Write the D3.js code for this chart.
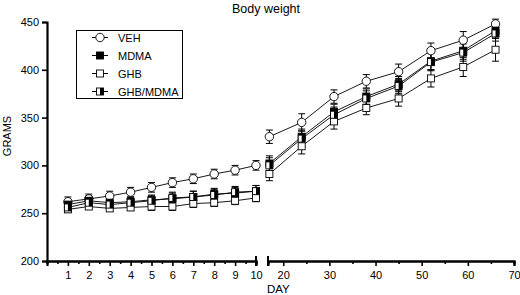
<!DOCTYPE html>
<html>
<head>
<meta charset="utf-8">
<script src="https://cdn.jsdelivr.net/npm/d3@7"></script>
<style>
  body { margin: 0; background: #fff; }
  svg text { font-family: "Liberation Sans", Arial, sans-serif; fill: #000; }
</style>
</head>
<body>
<svg id="chart" width="520" height="295"></svg>
<script>
// days on each side of the axis break
const daysEarly = [1, 2, 3, 4, 5, 6, 7, 8, 9, 10];
const daysLate = [17, 24, 31, 38, 45, 52, 59, 66];

// grams, early days then late days
const vehMean = [262, 265, 268, 272, 277, 282, 286, 291, 295, 300, 330, 345, 372, 388, 398, 420, 431, 448];
const vehSem = [5, 5, 5, 5, 5, 5, 5, 5, 5, 5, 7, 9, 7, 7, 8, 8, 9, 5];
const mdmaMean = [259, 263, 261, 262, 264, 265, 267, 270, 271, 273, 302, 330, 356, 372, 385, 409, 420, 441];
const mdmaSem = [5, 5, 5, 5, 5, 6, 6, 6, 6, 6, 8, 8, 8, 8, 8, 9, 9, 8];
const ghbMdmaMean = [256, 261, 259, 261, 263, 266, 267, 269, 272, 273, 300, 328, 353, 370, 383, 408, 418, 438];
const ghbMdmaSem = [4, 4, 4, 5, 5, 6, 6, 6, 6, 6, 8, 8, 8, 8, 8, 9, 9, 8];
const ghbMean = [254, 257, 255, 256, 257, 257, 260, 261, 263, 266, 291, 320, 346, 360, 370, 391, 403, 421];
const ghbSem = [3, 3, 3, 3, 4, 4, 4, 4, 4, 4, 7, 8, 8, 7, 8, 9, 10, 12];

const yTicks = [200, 250, 300, 350, 400, 450];
const xTicksEarly = [1, 2, 3, 4, 5, 6, 7, 8, 9, 10];
const xTicksLate = [20, 30, 40, 50, 60, 70];

const series = [
    { name: "VEH", mean: vehMean, sem: vehSem, mark: "circle" },
    { name: "MDMA", mean: mdmaMean, sem: mdmaSem, mark: "filled" },
    { name: "GHB", mean: ghbMean, sem: ghbSem, mark: "open" },
    { name: "GHB/MDMA", mean: ghbMdmaMean, sem: ghbMdmaSem, mark: "half" }
];

const svg = d3.select("#chart");

const y = d3.scaleLinear().domain([200, 450]).range([261, 22]);
const xEarly = d3.scaleLinear().domain([0, 10]).range([47, 256]);
const xLate = d3.scaleLinear().domain([16.7, 70]).range([268, 514]);

// title and axis names
svg.append("text").attr("x", 266).attr("y", 13).attr("text-anchor", "middle")
    .attr("font-size", 12.5).text("Body weight");
svg.append("text").attr("transform", "translate(11,136) rotate(-90)")
    .attr("text-anchor", "middle").attr("font-size", 11).text("GRAMS");
svg.append("text").attr("x", 267).attr("y", 293).attr("font-size", 11.5).text("DAY");

// y axis
const yAxis = svg.append("g").attr("transform", "translate(47,0)")
    .call(d3.axisLeft(y).tickValues(yTicks).tickSize(5).tickPadding(3));

// x axis, left part
const minorEarly = d3.range(0.5, 10, 1);
svg.append("g").attr("transform", "translate(0,261)")
    .call(d3.axisBottom(xEarly).tickValues(minorEarly).tickSize(3).tickFormat(""));
const xAxisEarly = svg.append("g").attr("transform", "translate(0,261)")
    .call(d3.axisBottom(xEarly).tickValues(xTicksEarly).tickSize(5).tickPadding(5));

// x axis, right part
const minorLate = [25, 35, 45, 55, 65];
svg.append("g").attr("transform", "translate(0,261)")
    .call(d3.axisBottom(xLate).tickValues(minorLate).tickSize(3).tickFormat(""));
const xAxisLate = svg.append("g").attr("transform", "translate(0,261)")
    .call(d3.axisBottom(xLate).tickValues(xTicksLate).tickSize(5).tickPadding(5));

svg.selectAll(".domain").attr("stroke-width", 2.2).attr("stroke", "#000");
svg.selectAll(".tick line").attr("stroke-width", 1.6).attr("stroke", "#000");
svg.selectAll(".tick text").attr("font-size", 11)
    .attr("font-family", '"Liberation Sans", Arial, sans-serif');

// end bars at the break
[xEarly(10), xLate.range()[0]].forEach(px => {
    svg.append("line").attr("x1", px).attr("x2", px).attr("y1", 256).attr("y2", 266)
        .attr("stroke", "#000").attr("stroke-width", 2);
});

function drawMarker(g, kind, cx, cy) {
    const s = 7;
    if (kind === "circle") {
        g.append("circle").attr("cx", cx).attr("cy", cy).attr("r", 4.2)
            .attr("fill", "#fff").attr("stroke", "#000").attr("stroke-width", 0.9);
        return;
    }
    g.append("rect").attr("x", cx - s / 2).attr("y", cy - s / 2).attr("width", s).attr("height", s)
        .attr("fill", kind === "filled" ? "#000" : "#fff")
        .attr("stroke", "#000").attr("stroke-width", 0.9);
    if (kind === "half") {
        g.append("rect").attr("x", cx).attr("y", cy - s / 2).attr("width", s / 2).attr("height", s)
            .attr("fill", "#000");
    }
}

const plot = svg.append("g");
const segments = [
    { days: daysEarly, x: xEarly, offset: 0 },
    { days: daysLate, x: xLate, offset: daysEarly.length }
];

// error bars
series.forEach(sr => {
    segments.forEach(seg => {
        seg.days.forEach((d, i) => {
            const v = sr.mean[seg.offset + i], e = sr.sem[seg.offset + i];
            const px = seg.x(d);
            const eb = plot.append("g").attr("stroke", "#000").attr("stroke-width", 1);
            eb.append("line").attr("x1", px).attr("x2", px).attr("y1", y(v - e)).attr("y2", y(v + e));
            eb.append("line").attr("x1", px - 3.5).attr("x2", px + 3.5).attr("y1", y(v + e)).attr("y2", y(v + e));
            eb.append("line").attr("x1", px - 3.5).attr("x2", px + 3.5).attr("y1", y(v - e)).attr("y2", y(v - e));
        });
    });
});

// connecting lines
series.forEach(sr => {
    segments.forEach(seg => {
        const pts = seg.days.map((d, i) => [seg.x(d), y(sr.mean[seg.offset + i])]);
        plot.append("path").attr("d", d3.line()(pts))
            .attr("fill", "none").attr("stroke", "#000").attr("stroke-width", 0.9);
    });
});

// markers
series.forEach(sr => {
    segments.forEach(seg => {
        seg.days.forEach((d, i) => drawMarker(plot, sr.mark, seg.x(d), y(sr.mean[seg.offset + i])));
    });
});

// legend
const legend = svg.append("g");
legend.append("rect").attr("x", 76.5).attr("y", 30.5).attr("width", 106).attr("height", 68)
    .attr("fill", "#fff").attr("stroke", "#000").attr("stroke-width", 1);
const legendOrder = ["VEH", "MDMA", "GHB", "GHB/MDMA"];
legendOrder.forEach((name, i) => {
    const sr = series.find(s => s.name === name);
    const ly = 37.5 + i * 18;
    legend.append("line").attr("x1", 92).attr("x2", 108).attr("y1", ly).attr("y2", ly)
        .attr("stroke", "#000").attr("stroke-width", 1);
    drawMarker(legend, sr.mark, 100, ly);
    legend.append("text").attr("x", 118).attr("y", ly + 4).attr("font-size", 11).text(name);
});
</script>
</body>
</html>
